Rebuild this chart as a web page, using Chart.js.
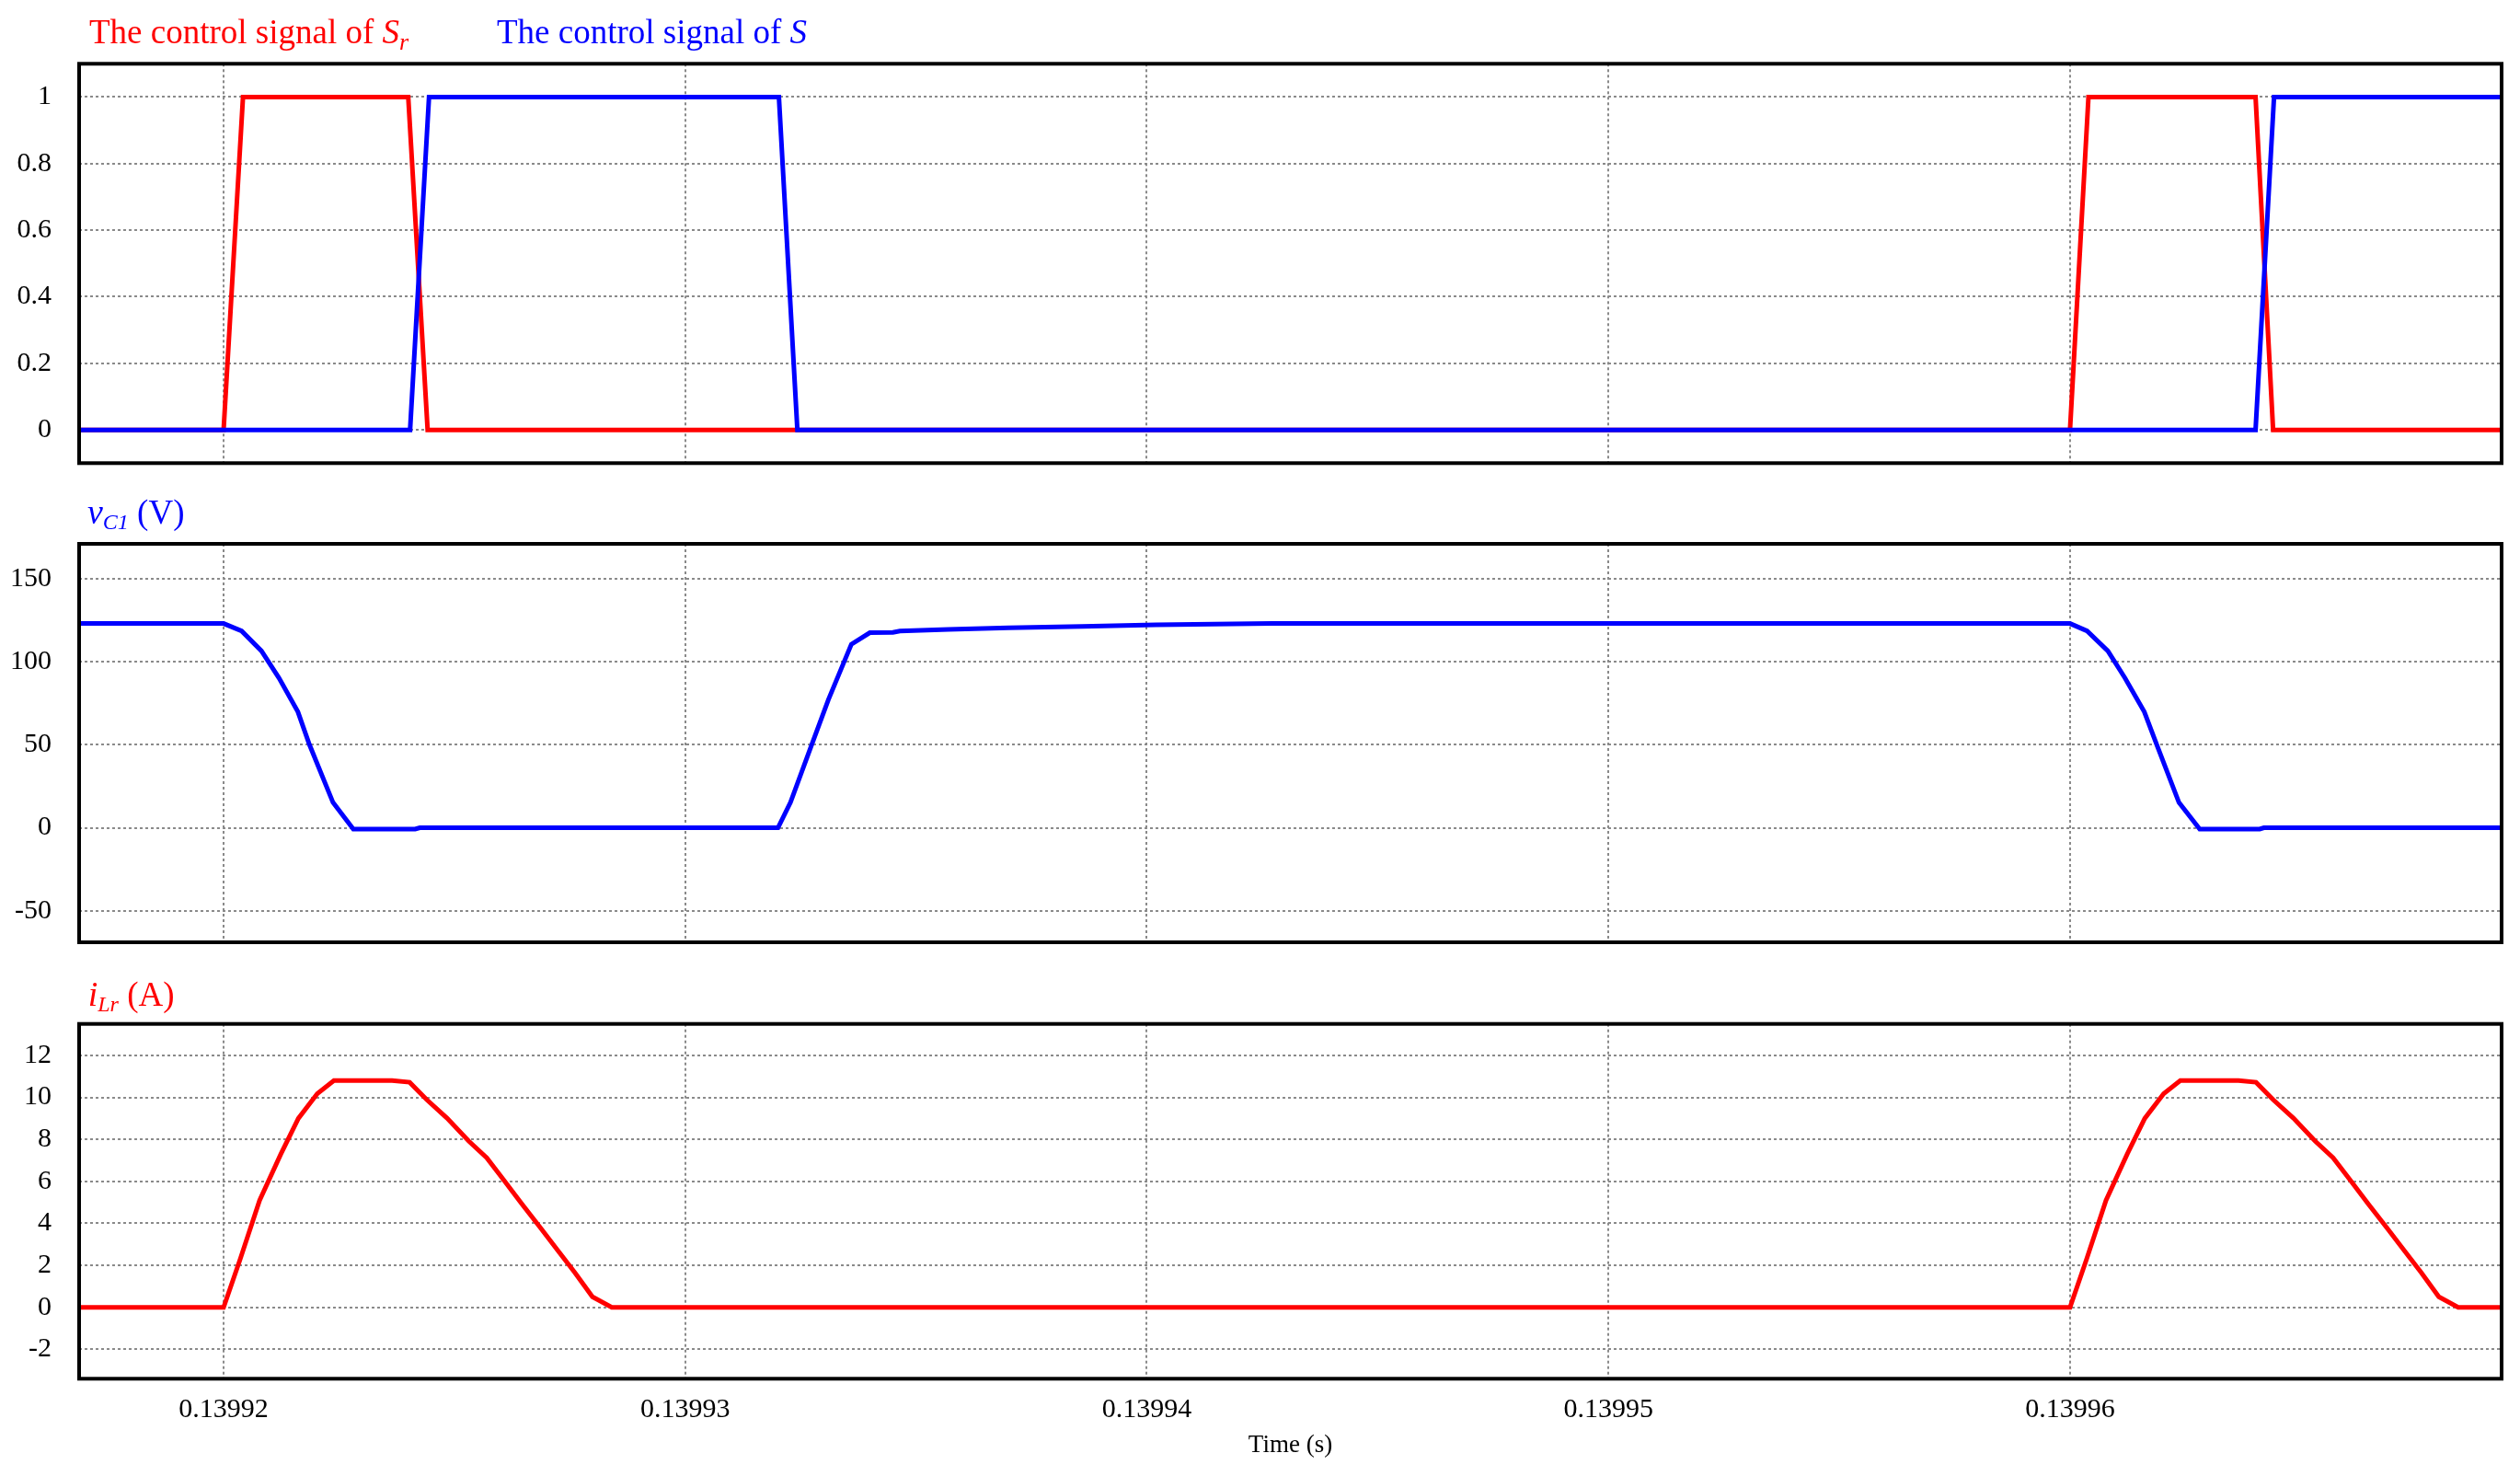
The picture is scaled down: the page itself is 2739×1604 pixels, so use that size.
<!DOCTYPE html>
<html>
<head>
<meta charset="utf-8">
<script src="https://cdn.jsdelivr.net/npm/chart.js@4.4.1/dist/chart.umd.min.js"></script>
<style>
  html, body { margin: 0; padding: 0; background: #fff; }
  #wrap { position: relative; width: 2739px; height: 1604px; }
  canvas { position: absolute; left: 0; }
</style>
</head>
<body>
<div id="wrap">
  <canvas id="c1" width="2739" height="560" style="top:0px"></canvas>
  <canvas id="c2" width="2739" height="560" style="top:520px"></canvas>
  <canvas id="c3" width="2739" height="564" style="top:1040px"></canvas>
</div>
<script>
// time axis in microseconds, labels shown in seconds
const xMin = 139916.87;
const xMax = 139969.35;
const xTicks = [139920, 139930, 139940, 139950, 139960];
const xTickLabels = ['0.13992', '0.13993', '0.13994', '0.13995', '0.13996'];

// control signals
const srTime = [139916.87, 139920.0, 139920.42, 139924.0, 139924.42, 139960.0, 139960.4, 139964.02, 139964.4, 139969.35];
const srVal  = [0, 0, 1, 1, 0, 0, 1, 1, 0, 0];
const sTime  = [139916.87, 139924.04, 139924.45, 139932.03, 139932.43, 139964.02, 139964.42, 139969.35];
const sVal   = [0, 0, 1, 1, 0, 0, 1, 1];
const sigTicks = [0, 0.2, 0.4, 0.6, 0.8, 1];
const sigTickLabels = ['0', '0.2', '0.4', '0.6', '0.8', '1'];

// capacitor voltage vC1
const vTime = [139916.87, 139920.0, 139920.39, 139920.82, 139921.20, 139921.61, 139921.86, 139922.37, 139922.81,
  139924.15, 139924.25, 139932.01, 139932.28, 139932.74, 139933.10, 139933.60, 139934.0, 139934.5, 139934.65,
  139935.7, 139937.0, 139938.6, 139940.2, 139942.7, 139960.0, 139960.37, 139960.82, 139961.19, 139961.61,
  139961.88, 139962.36, 139962.81, 139964.11, 139964.2, 139969.35];
const vVal = [123, 123, 118.5, 106.5, 90.2, 69.8, 50, 15.2, -0.8,
  -0.8, 0, 0, 15.2, 50, 77, 110.5, 117.5, 117.7, 118.5,
  119.4, 120.4, 121.3, 122.2, 123, 123, 118.5, 106.5, 90.2, 69.8,
  50, 15.2, -0.8, -0.8, 0, 0];
const vTicks = [-50, 0, 50, 100, 150];
const vTickLabels = ['-50', '0', '50', '100', '150'];

// resonant inductor current iLr
const iTime = [139916.87, 139920.0, 139920.36, 139920.78, 139921.24, 139921.62, 139922.03, 139922.39, 139923.65,
  139924.03, 139924.40, 139924.84, 139925.31, 139925.70, 139926.06, 139926.46, 139926.86, 139927.23, 139927.61,
  139927.99, 139928.41, 139960.0, 139960.36, 139960.78, 139961.24, 139961.62, 139962.03, 139962.39, 139963.65,
  139964.03, 139964.40, 139964.84, 139965.31, 139965.70, 139966.06, 139966.46, 139966.86, 139967.23, 139967.61,
  139967.99, 139968.41, 139969.35];
const iVal = [0, 0, 2.3, 5.1, 7.3, 9.0, 10.18, 10.8, 10.8,
  10.72, 9.89, 9.01, 7.92, 7.12, 6.09, 4.93, 3.8, 2.74, 1.65,
  0.5, 0, 0, 2.3, 5.1, 7.3, 9.0, 10.18, 10.8, 10.8,
  10.72, 9.89, 9.01, 7.92, 7.12, 6.09, 4.93, 3.8, 2.74, 1.65,
  0.5, 0, 0];
const iTicks = [-2, 0, 2, 4, 6, 8, 10, 12];
const iTickLabels = ['-2', '0', '2', '4', '6', '8', '10', '12'];

const RED = '#ff0000';
const BLUE = '#0000ff';
const SERIF = "'Liberation Serif', 'Times New Roman', serif";
const GRID = '#8a8a8a';

const pts = (t, v) => t.map((x, i) => ({ x: x, y: v[i] }));

// lower order is drawn on top
const line = (data, color, order) => ({
  data: data,
  borderColor: color,
  borderWidth: 5,
  pointRadius: 0,
  tension: 0,
  fill: false,
  order: order || 0
});

const frame = {
  id: 'frame',
  afterDatasetsDraw(chart) {
    const { ctx, chartArea: a } = chart;
    ctx.save();
    ctx.strokeStyle = '#000';
    ctx.lineWidth = 4;
    ctx.strokeRect(a.left, a.top, a.right - a.left, a.bottom - a.top);
    ctx.restore();
  }
};

// mixed italic / subscript labels above each panel
function labels(items) {
  return {
    id: 'labels',
    afterDraw(chart) {
      const ctx = chart.ctx;
      ctx.save();
      ctx.textBaseline = 'alphabetic';
      ctx.textAlign = 'left';
      items.forEach(it => {
        let x = it.x;
        ctx.fillStyle = it.color;
        it.runs.forEach(r => {
          ctx.font = (r.italic ? 'italic ' : '') + r.size + 'px ' + SERIF;
          ctx.fillText(r.text, x, it.y + (r.dy || 0));
          x += ctx.measureText(r.text).width;
        });
      });
      ctx.restore();
    }
  };
}

function makeChart(id, datasets, yMin, yMax, yTicks, yLabels, pad, bottom, labelItems) {
  const xAxis = {
    type: 'linear',
    min: xMin,
    max: xMax,
    afterBuildTicks: s => { s.ticks = xTicks.map(v => ({ value: v })); },
    grid: { color: GRID, lineWidth: 2, drawTicks: false },
    border: { display: false, dash: [3, 3] },
    ticks: {
      display: bottom,
      padding: 16,
      color: '#000',
      font: { family: SERIF, size: 30 },
      maxRotation: 0,
      callback: (v, i) => xTickLabels[i]
    }
  };
  if (bottom) {
    xAxis.title = {
      display: true,
      text: 'Time (s)',
      color: '#000',
      font: { family: SERIF, size: 27 },
      padding: { top: 0, bottom: 17 }
    };
    xAxis.afterFit = s => { s.height = 105.7; };
  } else {
    xAxis.afterFit = s => { s.height = 0; };
  }
  return new Chart(document.getElementById(id), {
    type: 'line',
    data: { datasets: datasets },
    options: {
      responsive: false,
      animation: false,
      devicePixelRatio: 1,
      layout: { padding: pad },
      plugins: { legend: { display: false }, tooltip: { enabled: false } },
      scales: {
        x: xAxis,
        y: {
          min: yMin,
          max: yMax,
          afterBuildTicks: s => { s.ticks = yTicks.map(v => ({ value: v })); },
          afterFit: s => { s.width = 86; },
          grid: { color: GRID, lineWidth: 2, drawTicks: false },
          border: { display: false, dash: [3, 3] },
          ticks: {
            padding: 30,
            color: '#000',
            font: { family: SERIF, size: 30 },
            callback: (v, i) => yLabels[i]
          }
        }
      }
    },
    plugins: [frame, labels(labelItems)]
  });
}

makeChart('c1',
  [line(pts(srTime, srVal), RED, 2), line(pts(sTime, sVal), BLUE, 1)],
  -0.1, 1.1, sigTicks, sigTickLabels,
  { left: 0, right: 20, top: 69.3, bottom: 56.7 }, false,
  [
    { x: 97, y: 47, color: RED, runs: [
      { text: 'The control signal of ', size: 37 },
      { text: 'S', size: 37, italic: true },
      { text: 'r', size: 26, italic: true, dy: 7 }
    ] },
    { x: 540, y: 47, color: BLUE, runs: [
      { text: 'The control signal of ', size: 37 },
      { text: 'S', size: 37, italic: true }
    ] }
  ]);

makeChart('c2',
  [line(pts(vTime, vVal), BLUE)],
  -69, 171, vTicks, vTickLabels,
  { left: 0, right: 20, top: 71, bottom: 56 }, false,
  [
    { x: 95, y: 49, color: BLUE, runs: [
      { text: 'v', size: 38, italic: true },
      { text: 'C1', size: 24, italic: true, dy: 6 },
      { text: ' (V)', size: 37 }
    ] }
  ]);

makeChart('c3',
  [line(pts(iTime, iVal), RED)],
  -3.4, 13.5, iTicks, iTickLabels,
  { left: 0, right: 20, top: 72.7, bottom: 0 }, true,
  [
    { x: 95.7, y: 52.7, color: RED, runs: [
      { text: 'i', size: 38, italic: true },
      { text: 'Lr', size: 24, italic: true, dy: 6 },
      { text: ' (A)', size: 37 }
    ] }
  ]);
</script>
</body>
</html>
